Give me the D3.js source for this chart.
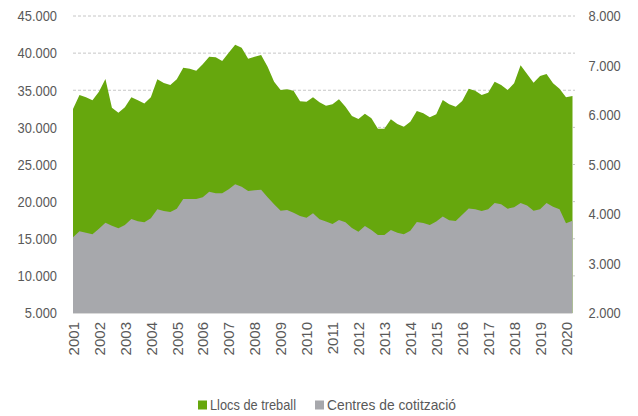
<!DOCTYPE html>
<html>
<head>
<meta charset="utf-8">
<script src="https://cdn.jsdelivr.net/npm/d3@7"></script>
<style>
  body { margin: 0; background: #fff; }
  text { font-family: "Liberation Sans", Arial, sans-serif; fill: #595959; }
</style>
</head>
<body>
<div id="chart"></div>
<script>
// years shown on the category axis (one label per first quarter)
var years = ["2001","2002","2003","2004","2005","2006","2007","2008","2009","2010",
             "2011","2012","2013","2014","2015","2016","2017","2018","2019","2020"];
var quarters = ["T1","T2","T3","T4"];

// Llocs de treball (left axis), quarterly 2001T1 - 2020T2
var llocs = [32480,34360,34050,33650,34800,36500,32650,31980,32700,34050,
             33650,33200,34050,36470,35980,35700,36470,38040,37900,37630,
             38500,39520,39440,38940,40060,41140,40730,39250,39520,39750,
             38170,36150,35030,35130,34940,33510,33460,34050,33380,32920,
             33110,33780,32790,31530,31130,31840,31220,29820,29820,31090,
             30450,30090,30760,32200,31900,31360,31760,33690,33110,32790,
             33550,35210,34940,34360,34670,36150,35710,35030,35930,38360,
             37190,36020,36920,37190,35930,35210,34050,34230];

// Centres de cotització (right axis)
var centres = [3529,3651,3622,3590,3703,3824,3764,3711,3778,3899,
               3853,3832,3913,4095,4061,4040,4107,4303,4303,4303,
               4337,4451,4418,4418,4499,4600,4552,4465,4479,4491,
               4337,4196,4067,4081,4026,3960,3925,4014,3893,3848,
               3798,3879,3832,3717,3642,3758,3677,3576,3576,3677,
               3622,3590,3663,3838,3818,3778,3848,3949,3873,3859,
               3986,4111,4095,4061,4097,4222,4196,4107,4137,4222,
               4172,4065,4097,4222,4147,4097,3812,3863];

var leftTicks = [5000,10000,15000,20000,25000,30000,35000,40000,45000];
var rightTicks = [2000,3000,4000,5000,6000,7000,8000];

var seriesNames = ["Llocs de treball", "Centres de cotització"];
var seriesColors = ["#66a70d", "#a7a8ac"];

// category list built from years x quarters, cut to the number of data points
var categories = [];
years.forEach(function(y) { quarters.forEach(function(q) { categories.push(y + q); }); });
categories = categories.slice(0, llocs.length);

var svgWidth = 638, svgHeight = 416;
var plot = {left: 73, right: 572.5, top: 16, bottom: 313};
var narrow = 0.86; // no narrow font installed, squeeze glyphs horizontally instead

var locale = d3.formatLocale({decimal: ",", thousands: ".", grouping: [3], currency: ["", "€"]});
var fmt = locale.format(",.0f");

var svg = d3.select("#chart").append("svg")
    .attr("width", svgWidth)
    .attr("height", svgHeight);

var x = d3.scalePoint().domain(categories).range([plot.left, plot.right]);
var yLeft = d3.scaleLinear().domain([5000, 45000]).range([plot.bottom, plot.top]);
var yRight = d3.scaleLinear().domain([2000, 8000]).range([plot.bottom, plot.top]);

// dashed gridlines on the left axis values
svg.append("g").selectAll("line").data(leftTicks.slice(1)).enter()
    .append("line")
    .attr("x1", plot.left).attr("x2", plot.right + 2.5)
    .attr("y1", d => yLeft(d)).attr("y2", d => yLeft(d))
    .attr("stroke", "#c6c6c6")
    .attr("stroke-width", 1)
    .attr("stroke-dasharray", "3,2");

// green area first, grey one drawn over it
var areaLeft = d3.area()
    .x((d, i) => x(categories[i]))
    .y0(plot.bottom)
    .y1(d => yLeft(d));
var areaRight = d3.area()
    .x((d, i) => x(categories[i]))
    .y0(plot.bottom)
    .y1(d => yRight(d));

svg.append("path").datum(llocs)
    .attr("d", areaLeft)
    .attr("fill", seriesColors[0]);
svg.append("path").datum(centres)
    .attr("d", areaRight)
    .attr("fill", seriesColors[1]);

// bottom axis line
svg.append("line")
    .attr("x1", plot.left).attr("x2", plot.right)
    .attr("y1", plot.bottom + 0.5).attr("y2", plot.bottom + 0.5)
    .attr("stroke", "#d9d9d9");

// left axis
var leftAxis = svg.append("g")
    .attr("transform", `translate(${plot.left},0)`)
    .call(d3.axisLeft(yLeft).tickValues(leftTicks).tickFormat(fmt).tickSize(0));
leftAxis.select(".domain").remove();
leftAxis.selectAll("text")
    .attr("x", -16 / narrow)
    .attr("transform", `scale(${narrow},1)`)
    .style("font-size", "15px");

// right axis
var rightAxis = svg.append("g")
    .attr("transform", `translate(${plot.right},0)`)
    .call(d3.axisRight(yRight).tickValues(rightTicks).tickFormat(fmt).tickSize(0));
rightAxis.select(".domain").remove();
rightAxis.selectAll("text")
    .attr("x", 16 / narrow)
    .attr("transform", `scale(${narrow},1)`)
    .style("font-size", "15px");

// category axis, one rotated label per year
var bottomAxis = svg.append("g")
    .attr("transform", `translate(0,${plot.bottom})`)
    .call(d3.axisBottom(x)
        .tickValues(years.map(y => y + "T1"))
        .tickFormat(d => d.slice(0, 4))
        .tickSize(0));
bottomAxis.select(".domain").remove();
bottomAxis.selectAll("text")
    .attr("y", 0).attr("x", -9)
    .attr("dy", "0.35em")
    .attr("text-anchor", "end")
    .attr("transform", "rotate(-90)")
    .style("font-size", "15px");

// legend (text squeezed to the width of the original narrow font)
var legend = svg.append("g").attr("transform", "translate(0,405)");
var legendX = [198, 315];
var legendLen = [86, 129];
seriesNames.forEach(function(name, i) {
    legend.append("rect")
        .attr("x", legendX[i]).attr("y", -4.5)
        .attr("width", 9).attr("height", 9)
        .attr("fill", seriesColors[i]);
    legend.append("text")
        .attr("x", legendX[i] + 12).attr("y", 0)
        .attr("dy", "0.35em")
        .attr("textLength", legendLen[i])
        .attr("lengthAdjust", "spacingAndGlyphs")
        .style("font-size", "15px")
        .text(name);
});
</script>
</body>
</html>
